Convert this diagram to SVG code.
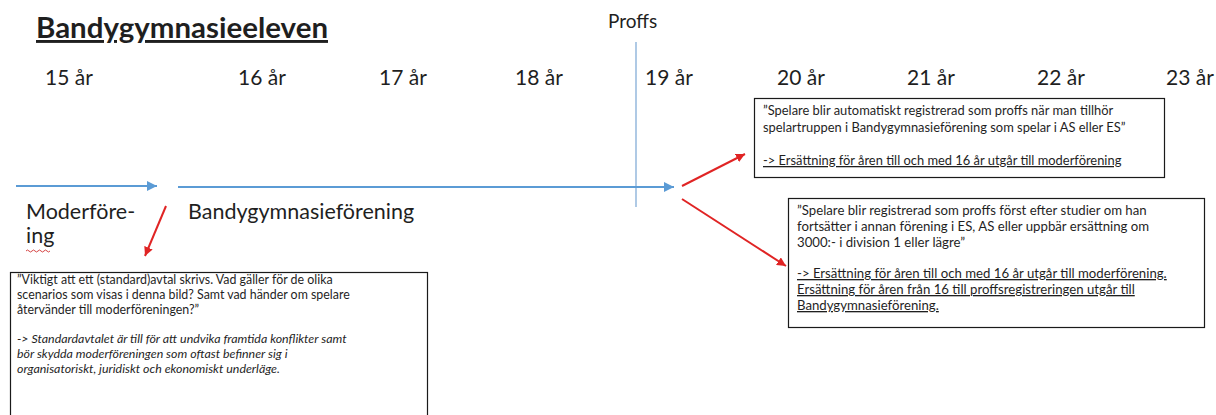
<svg xmlns="http://www.w3.org/2000/svg" width="1216" height="415" viewBox="0 0 1216 415">
<style>
  text { font-family: Lato, "Liberation Sans", sans-serif; fill: #1f1f1f; }
  .title { font-size: 29px; font-weight: bold; text-decoration: underline; }
  .year { font-size: 21px; }
  .big { font-size: 21.5px; }
  .nl { font-size: 12.4px; }
  .n1 { font-size: 12.9px; }
  .n2 { font-size: 13.2px; }
  .u { text-decoration: underline; }
  .it { font-style: italic; }
  .box { fill: #ffffff; stroke: #1a1a1a; stroke-width: 1.2; }
  .blue { stroke: #5b9bd5; stroke-width: 2; fill: none; }
  .red { stroke: #e02424; stroke-width: 2; fill: none; }
</style>
<defs>
  <marker id="ab" viewBox="0 0 10 10" refX="10" refY="5" markerWidth="5" markerHeight="5" orient="auto" markerUnits="strokeWidth">
    <path d="M0,0 L10,5 L0,10 z" fill="#5b9bd5"/>
  </marker>
  <marker id="ar" viewBox="0 0 10 10" refX="10" refY="5" markerWidth="4.5" markerHeight="4.5" orient="auto" markerUnits="strokeWidth">
    <path d="M0,0 L10,5 L0,10 z" fill="#e02424"/>
  </marker>
</defs>
<rect width="1216" height="415" fill="#ffffff"/>

<g id="title"><text class="title" x="36" y="38" textLength="292" lengthAdjust="spacingAndGlyphs">Bandygymnasieeleven</text></g>

<g id="years">
  <text class="year" x="45" y="85">15 år</text>
  <text class="year" x="238" y="85">16 år</text>
  <text class="year" x="379" y="85">17 år</text>
  <text class="year" x="515" y="85">18 år</text>
  <text class="year" x="645" y="85">19 år</text>
  <text class="year" x="777" y="85">20 år</text>
  <text class="year" x="907" y="85">21 år</text>
  <text class="year" x="1037" y="85">22 år</text>
  <text class="year" x="1166" y="85">23 år</text>
</g>

<g id="proffs">
  <text x="608" y="28" style="font-size:19px">Proffs</text>
  <line x1="636" y1="42" x2="636" y2="207" stroke="#7aa6d4" stroke-width="1.2"/>
</g>

<g id="moderforening">
  <text class="big" x="26" y="219">Moderföre-</text>
  <text class="big" x="26" y="243">ing</text>
  <path d="M26,251 q1.5,-2 3,0 t3,0 t3,0 t3,0 t3,0 t3,0 t3,0 t3,0" stroke="#d03030" stroke-width="0.9" fill="none"/>
</g>

<g id="bandygymnasieforening">
  <text class="big" x="188" y="219">Bandygymnasieförening</text>
</g>

<g id="note-left">
  <rect class="box" x="10.5" y="272.5" width="417" height="150"/>
  <text class="nl" x="17" y="284">”Viktigt att ett (standard)avtal skrivs. Vad gäller för de olika</text>
  <text class="nl" x="17" y="299">scenarios som visas i denna bild? Samt vad händer om spelare</text>
  <text class="nl" x="17" y="314">återvänder till moderföreningen?”</text>
  <text class="nl it" x="17" y="343">-&gt; Standardavtalet är till för att undvika framtida konflikter samt</text>
  <text class="nl it" x="17" y="358">bör skydda moderföreningen som oftast befinner sig i</text>
  <text class="nl it" x="17" y="373">organisatoriskt, juridiskt och ekonomiskt underläge.</text>
</g>

<g id="note-auto">
  <rect class="box" x="754.5" y="98.5" width="410" height="79"/>
  <text class="n1" x="763" y="115">”Spelare blir automatiskt registrerad som proffs när man tillhör</text>
  <text class="n1" x="763" y="132">spelartruppen i Bandygymnasieförening som spelar i AS eller ES”</text>
  <text class="n1 u" x="763" y="165">-&gt; Ersättning för åren till och med 16 år utgår till moderförening</text>
</g>

<g id="note-studier">
  <rect class="box" x="788.5" y="198.5" width="416" height="129"/>
  <text class="n2" x="797" y="215">”Spelare blir registrerad som proffs först efter studier om han</text>
  <text class="n2" x="797" y="231">fortsätter i annan förening i ES, AS eller uppbär ersättning om</text>
  <text class="n2" x="797" y="247">3000:- i division 1 eller lägre”</text>
  <text class="n2 u" x="797" y="278">-&gt; Ersättning för åren till och med 16 år utgår till moderförening.</text>
  <text class="n2 u" x="797" y="294">Ersättning för åren från 16 till proffsregistreringen utgår till</text>
  <text class="n2 u" x="797" y="310">Bandygymnasieförening.</text>
</g>

<g id="connectors">
  <line class="blue" x1="16" y1="186" x2="157" y2="186" marker-end="url(#ab)"/>
  <line class="blue" x1="178" y1="187" x2="674" y2="187" marker-end="url(#ab)"/>
  <line class="red" x1="682" y1="186" x2="745" y2="154" marker-end="url(#ar)"/>
  <line class="red" x1="682" y1="199" x2="786" y2="266" marker-end="url(#ar)"/>
  <line class="red" x1="166" y1="206" x2="145" y2="256" marker-end="url(#ar)"/>
</g>
</svg>
